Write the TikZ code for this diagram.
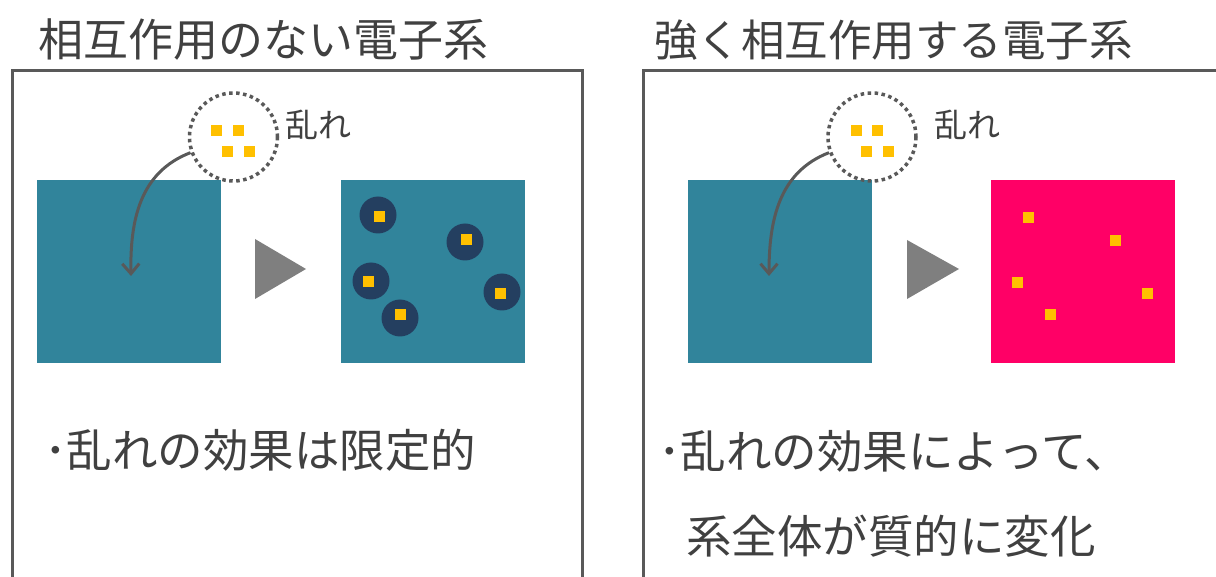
\documentclass[tikz,border=0pt]{standalone}
\usepackage{fontspec}
\setmainfont{Noto Sans CJK JP}
\usetikzlibrary{arrows.meta}
\definecolor{txt}{HTML}{404040}
\definecolor{frm}{HTML}{595959}
\definecolor{teal}{HTML}{31849B}
\definecolor{navy}{HTML}{243F60}
\definecolor{ylw}{HTML}{FFC000}
\definecolor{pnk}{HTML}{FF0066}
\definecolor{tri}{HTML}{7F7F7F}
\tikzset{
  ttl/.style={text=txt,font=\fontsize{45}{50}\selectfont,anchor=west,inner sep=0},
  body/.style={text=txt,font=\fontsize{45.5}{50}\selectfont,anchor=west,inner sep=0},
  lbl/.style={text=txt,font=\fontsize{33}{36}\selectfont,anchor=west,inner sep=0},
  frame/.style={draw=frm,line width=3},
  ysq/.style={rectangle,fill=ylw,minimum size=11,inner sep=0},
  dot/.style={circle,fill=navy,minimum size=37,inner sep=0},
  box/.style={rectangle,minimum width=184,minimum height=183,inner sep=0},
  dist/.style={circle,draw=frm,line width=3.5,dash pattern=on 3.5 off 3.5,minimum size=88,inner sep=0},
  hit/.style={draw=frm,line width=3,-{Straight Barb[length=10,width=17]}},
  playhead/.style={fill=tri}
}
\begin{document}
\begin{tikzpicture}[x=1pt,y=-1pt]
\useasboundingbox (0,0) rectangle (1216,577);
\clip (0,0) rectangle (1216,577);
% titles
\node[ttl] (t1) at (38,40) {相互作用のない電子系};
\node[ttl,font=\fontsize{43.5}{50}\selectfont] (t2) at (654,40) {強く相互作用する電子系};
% frames
\draw[frame] (12,600) -- (12,71) -- (582,71) -- (582,600);
\draw[frame] (643,600) -- (643,71) -- (1240,71);
% ---- left panel
\node[box,fill=teal] (b1) at (129,271.5) {};
\node[box,fill=teal] (b2) at (433,271.5) {};
\fill[playhead] (255,239) -- (255,299) -- (306,269) -- cycle;
\foreach \cx/\cy/\sx/\sy [count=\i] in {378/215/379/217, 465/242/466/240, 371/281/368/282, 502/292/500/294, 400/318/400/315}{
  \node[dot] (c\i) at (\cx,\cy) {};
  \node[ysq] (s\i) at (\sx,\sy) {};
}
\node[dist] (d1) at (233.5,137) {};
\node[ysq] at (216,131) {};
\node[ysq] at (238,131) {};
\node[ysq] at (227,152) {};
\node[ysq] at (249,152) {};
\node[lbl] (l1) at (285,125) {乱れ};
\coordinate (e1) at (131,276);
\draw[hit] (d1.200) .. controls (140,172) and (130,220) .. (e1);
\node[body] (p1) at (44,450) {･乱れの効果は限定的};
% ---- right panel
\node[box,fill=teal] (b3) at (780,271.5) {};
\node[box,fill=pnk] (b4) at (1083,271.5) {};
\fill[playhead] (907,240) -- (907,299) -- (959,269) -- cycle;
\foreach \sx/\sy [count=\i] in {1028/218, 1115/241, 1017/283, 1147/294, 1050/315}{
  \node[ysq] (q\i) at (\sx,\sy) {};
}
\node[dist] (d2) at (872,137) {};
\node[ysq] at (856,131) {};
\node[ysq] at (877,131) {};
\node[ysq] at (866,152) {};
\node[ysq] at (888,152) {};
\node[lbl] (l2) at (934,125) {乱れ};
\coordinate (e2) at (769,276);
\draw[hit] (d2.200) .. controls (779,172) and (769,220) .. (e2);
\node[body] (p2) at (658,451) {･乱れの効果によって、};
\node[body] (p3) at (686,536) {系全体が質的に変化};
\end{tikzpicture}
\end{document}
